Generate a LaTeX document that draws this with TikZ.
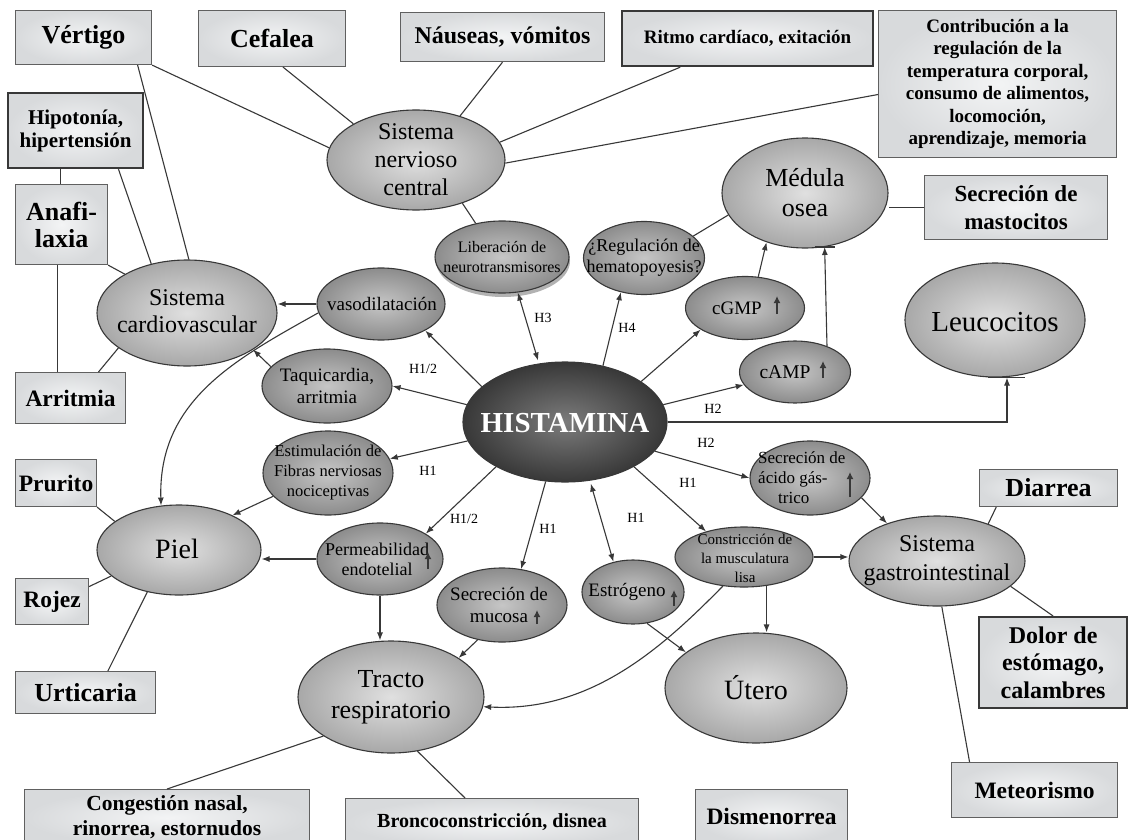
\documentclass[tikz,border=0pt]{standalone}
\usepackage{fontspec}
\setmainfont{Liberation Serif}
\usetikzlibrary{shapes.geometric,arrows.meta,calc}
\newcommand{\fsz}[2]{\fontsize{#1}{#2}\selectfont}
\definecolor{boxin}{HTML}{F3F4F5}
\definecolor{boxout}{HTML}{D8DADC}
\definecolor{sysin}{HTML}{E0E0E0}
\definecolor{sysout}{HTML}{A8A8A8}
\definecolor{smin}{HTML}{C6C6C6}
\definecolor{smout}{HTML}{8C8C8C}
\definecolor{hisin}{HTML}{7C7C7C}
\definecolor{hisout}{HTML}{383838}
\definecolor{ln}{HTML}{383838}
\begin{document}
\begin{tikzpicture}[x=1pt,y=-1pt,
 box/.style={draw=ln!80, line width=1.1pt, shade, inner color=boxin, outer color=boxout, anchor=north west, align=center, inner sep=1pt},
 thickbox/.style={box, line width=2.2pt, draw=ln},
 sys/.style={ellipse, draw=ln, line width=1.1pt, shade, inner color=sysin, outer color=sysout, inner sep=0},
 sm/.style={ellipse, draw=ln, line width=1.1pt, shade, inner color=smin, outer color=smout, inner sep=0},
 txt/.style={align=center, inner sep=0},
 con/.style={draw=ln, line width=1.1pt},
 arr/.style={con, -{Latex[length=8pt,width=6pt]}},
 darr/.style={con, {Latex[length=8pt,width=6pt]}-{Latex[length=8pt,width=6pt]}},
 hl/.style={font=\fsz{14}{16}, inner sep=0},
 up/.style={draw=ln, line width=1.6pt, -{Latex[length=7pt,width=7pt]}}
]
\useasboundingbox (0,0) rectangle (1129,840);
\fill[white] (0,0) rectangle (1129,840);

% ---------- boxes ----------
\node[box, minimum width=136, minimum height=54, font=\fsz{26}{28}\bfseries] (vert) at (15,10) {Vértigo};
\node[box, minimum width=147, minimum height=56, font=\fsz{26}{28}\bfseries] (cef) at (198,10) {Cefalea};
\node[box, minimum width=204, minimum height=49, font=\fsz{24}{26}\bfseries] (nau) at (400,12) {Náuseas, vómitos};
\node[thickbox, minimum width=251, minimum height=55, font=\fsz{19}{22}\bfseries] (rit) at (621,10) {Ritmo cardíaco, exitación};
\node[box, minimum width=238, minimum height=147, font=\fsz{19}{22.5}\bfseries] (cont) at (878,10) {Contribución a la\\regulación de la\\temperatura corporal,\\consumo de alimentos,\\locomoción,\\aprendizaje, memoria};
\node[box, minimum width=183, minimum height=64, font=\fsz{23}{28}\bfseries] (mas) at (924,175) {Secreción de\\mastocitos};
\node[thickbox, minimum width=135, minimum height=75, font=\fsz{21}{23}\bfseries] (hip) at (7,92) {Hipotonía,\\hipertensión};
\node[box, minimum width=92, minimum height=80, font=\fsz{26}{27}\bfseries] (anaf) at (15,184) {Anafi-\\laxia};
\node[box, minimum width=110, minimum height=51, font=\fsz{23.5}{25}\bfseries] (arrit) at (15,372) {Arritmia};
\node[box, minimum width=81, minimum height=47, font=\fsz{23.5}{25}\bfseries] (pru) at (15,459) {Prurito};
\node[box, minimum width=73, minimum height=46, font=\fsz{23.5}{25}\bfseries] (roj) at (15,578) {Rojez};
\node[box, minimum width=140, minimum height=42, font=\fsz{26}{27}\bfseries] (urt) at (15,671) {Urticaria};
\node[box, minimum width=285, minimum height=56, font=\fsz{21.5}{25}\bfseries] (cong) at (24,789) {Congestión nasal,\\rinorrea, estornudos};
\node[box, minimum width=293, minimum height=48, font=\fsz{20}{22}\bfseries] (bron) at (345,798) {Broncoconstricción, disnea};
\node[box, minimum width=152, minimum height=54, font=\fsz{23.5}{25}\bfseries] (dis) at (695,789) {Dismenorrea};
\node[box, minimum width=166, minimum height=55, font=\fsz{23.5}{25}\bfseries] (met) at (951,762) {Meteorismo};
\node[thickbox, minimum width=148, minimum height=91, font=\fsz{24}{27.5}\bfseries] (dol) at (978,616) {Dolor de\\estómago,\\calambres};
\node[box, minimum width=138, minimum height=37, font=\fsz{26}{27}\bfseries] (dia) at (979,469) {Diarrea};

% ---------- ellipses ----------
\node[sys, minimum width=178, minimum height=100] (snc) at (416,160) {};
\node[txt, font=\fsz{24}{28}] (snc-t) at (416,160) {Sistema\\nervioso\\central};
\node[ellipse, fill=gray!60, minimum width=134, minimum height=72, inner sep=0] (lib-sh) at (503,261) {};
\node[sm, minimum width=134, minimum height=72] (lib) at (502,257) {};
\node[txt, font=\fsz{16}{20}] (lib-t) at (502,257) {Liberación de\\neurotransmisores};
\node[sm, minimum width=121, minimum height=73] (reg) at (644,258) {};
\node[txt, font=\fsz{18}{21}] (reg-t) at (644,258) {¿Regulación de\\hematopoyesis?};
\node[sys, minimum width=166, minimum height=110] (med) at (805,193) {};
\node[txt, font=\fsz{26}{30}] (med-t) at (805,193) {Médula\\osea};
\node[sm, minimum width=119, minimum height=63] (cgmp) at (745,308) {};
\node[txt, font=\fsz{19}{21}] (cgmp-t) at (737,308) {cGMP};
\node[sm, minimum width=111, minimum height=62] (camp) at (795,372) {};
\node[txt, font=\fsz{19.5}{21}] (camp-t) at (785,372) {cAMP};
\node[sys, minimum width=180, minimum height=114] (leu) at (995,320) {};
\node[txt, font=\fsz{29}{31}] (leu-t) at (995,322) {Leucocitos};
\node[ellipse, draw=ln, line width=1.1pt, shade, inner color=hisin, outer color=hisout, inner sep=0, minimum width=204, minimum height=120] (his) at (565,422) {};
\node[txt, font=\fsz{29}{31}\bfseries, text=white] (his-t) at (565,423) {HISTAMINA};
\node[sm, minimum width=128, minimum height=72] (vaso) at (381,304) {};
\node[txt, font=\fsz{19}{21}] (vaso-t) at (382,304) {vasodilatación};
\node[sys, minimum width=180, minimum height=106] (scv) at (187,313) {};
\node[txt, font=\fsz{24}{27}] (scv-t) at (187,311) {Sistema\\cardiovascular};
\node[sm, minimum width=130, minimum height=74] (taq) at (327,386) {};
\node[txt, font=\fsz{19}{22}] (taq-t) at (327,386) {Taquicardia,\\arritmia};
\node[sm, minimum width=130, minimum height=84] (estim) at (328,473) {};
\node[txt, font=\fsz{16.5}{20}] (estim-t) at (328,473) {Estimulación de\\Fibras nerviosas\\nociceptivas};
\node[sys, minimum width=164, minimum height=90] (piel) at (179,550) {};
\node[txt, font=\fsz{28}{30}] (piel-t) at (177,549) {Piel};
\node[sm, minimum width=126, minimum height=72] (perm) at (380,559) {};
\node[txt, font=\fsz{18}{20}] (perm-t) at (377,559) {Permeabilidad\\endotelial};
\node[sm, minimum width=130, minimum height=74] (muc) at (502,605) {};
\node[txt, font=\fsz{19}{22}] (muc-t) at (499,605) {Secreción de\\mucosa};
\node[sm, minimum width=102, minimum height=64] (estro) at (633,592) {};
\node[txt, font=\fsz{19}{21}] (estro-t) at (627,592) {Estrógeno};
\node[sm, minimum width=138, minimum height=60] (cons) at (744,557) {};
\node[txt, font=\fsz{15}{19}] (cons-t) at (745,558) {Constricción de\\la musculatura\\lisa};
\node[sm, minimum width=120, minimum height=74] (aci) at (810,478) {};
\node[txt, font=\fsz{17}{20}, align=left, anchor=west] (aci-t) at (758,478) {Secreción de\\ácido gás-\\\hspace*{20pt}trico};
\node[sys, minimum width=176, minimum height=90] (gi) at (937,561) {};
\node[txt, font=\fsz{24}{29}] (gi-t) at (937,561) {Sistema\\gastrointestinal};
\node[sys, minimum width=182, minimum height=110] (ute) at (756,688) {};
\node[txt, font=\fsz{28}{30}] (ute-t) at (756,688) {Útero};
\node[sys, minimum width=186, minimum height=112] (tra) at (391,697) {};
\node[txt, font=\fsz{26}{31}] (tra-t) at (391,697) {Tracto\\respiratorio};

% ---------- receptor labels ----------
\node[hl] (h3) at (543,318) {H3};
\node[hl] (h4) at (627,328) {H4};
\node[hl] (h12a) at (423,369) {H1/2};
\node[hl] (h1a) at (428,471) {H1};
\node[hl] (h12b) at (464,519) {H1/2};
\node[hl] (h1b) at (548,529) {H1};
\node[hl] (h1c) at (636,518) {H1};
\node[hl] (h1d) at (688,483) {H1};
\node[hl] (h2a) at (706,443) {H2};
\node[hl] (h2b) at (713,409) {H2};

% ---------- symptom connectors ----------
\draw[con] (vert.south east) -- (snc.172);
\draw[con] (vert.-27) -- (scv.88);
\draw[con] (cef.-69) -- (snc.150);
\draw[con] (nau.south) -- (snc.45);
\draw[con] (rit.203) -- (snc.12);
\draw[con] (cont.185) -- (snc.-2);
\draw[con] (hip.-111) -- (hip.-111 |- anaf.north);
\draw[con] (hip.-42) -- (scv.126);
\draw[con] (anaf.south east) -- (scv.148);
\draw[con] (anaf.-96) -- (anaf.-96 |- arrit.north);
\draw[con] (arrit.43) -- (scv.207);
\draw[con] (pru.south east) -- (piel.156);
\draw[con] (roj.22) -- (piel.201);
\draw[con] (urt.44) -- (piel.233);
\draw[con] (cong.north) -- (tra.210);
\draw[con] ($(bron.north)+(-27,0)$) -- (tra.-64);
\draw[con] ($(dis.north)+(-3,0)$) -- ($(dis.north)+(-3,0)$ |- ute.south);
\draw[con] ($(met.north)+(-65,0)$) -- (gi.-84);
\draw[con] (dol.north) -- (gi.-19);
\draw[con] (dia.200) -- (gi.36);
\draw[con] (mas.west) -- (mas.west -| med.east);
\draw[con] (reg.24) -- (med.196);
\draw[con] (snc.-43) -- (lib.128);

% ---------- histamine arrows ----------
\draw[arr] (his.157) -- (vaso.-31);
\draw[arr] (his.170) -- (taq.0);
\draw[arr] (his.191) -- (estim.13);
\draw[arr] (his.213) -- (perm.29);
\draw[arr] (his.252) -- (muc.62);
\draw[darr, shorten <=3pt] (his.-67) -- (estro.123);
\draw[arr] (his.-33) -- (cons.146);
\draw[arr] (his.-18) -- (aci.180);
\draw[arr] (his.east) -| ($(leu.south)+(12,0)$);
\draw[con] ($(leu.south)+(-7,0)$) -- ($(leu.south)+(30,0)$);
\draw[arr] (his.10) -- (camp.194);
\draw[arr] (his.28) -- (cgmp.206);
\draw[arr] (his.56) -- (reg.236);
\draw[darr, shorten <=3pt] (his.114) -- (lib.-66);

% ---------- other arrows ----------
\draw[arr] (vaso.west) -- (vaso.west -| scv.east);
\draw[arr] (vaso.188) .. controls (236,359) and (158,400) .. (piel.112);
\draw[arr] (taq.161) -- (scv.-29);
\draw[arr] (estim.203) -- (piel.33);
\draw[arr] (perm.west) -- (perm.west -| piel.east);
\draw[arr] (perm.south) -- (perm.south |- tra.north);
\draw[arr] (muc.235) -- (tra.30);
\draw[arr] (cons.234) .. controls (660,650) and (590,712) .. (tra.-6);
\draw[arr] (cons.-52) -- (cons.-52 |- ute.north);
\draw[arr] (cons.east) -- (cons.east -| gi.west);
\draw[arr] (estro.-66) -- (ute.153);
\draw[arr] (aci.-21) -- (gi.143);
\draw[arr] (cgmp.67) -- (med.232);
\draw[arr] (camp.39) -- (med.-70);
\draw[con] ($(med.-70)+(-10,0)$) -- ($(med.-70)+(10,0)$);

% ---------- small rise arrows ----------
\draw[up] ($(cgmp)+(32,6)$) -- ($(cgmp)+(32,-12)$);
\draw[up] ($(camp)+(28,6)$) -- ($(camp)+(28,-11)$);
\draw[up] ($(perm)+(48,10)$) -- ($(perm)+(48,-7)$);
\draw[up] ($(muc)+(35,19)$) -- ($(muc)+(35,5)$);
\draw[up] ($(estro)+(41,14)$) -- ($(estro)+(41,-2)$);
\draw[up] ($(aci)+(40,19)$) -- ($(aci)+(40,-6)$);
\end{tikzpicture}
\end{document}
